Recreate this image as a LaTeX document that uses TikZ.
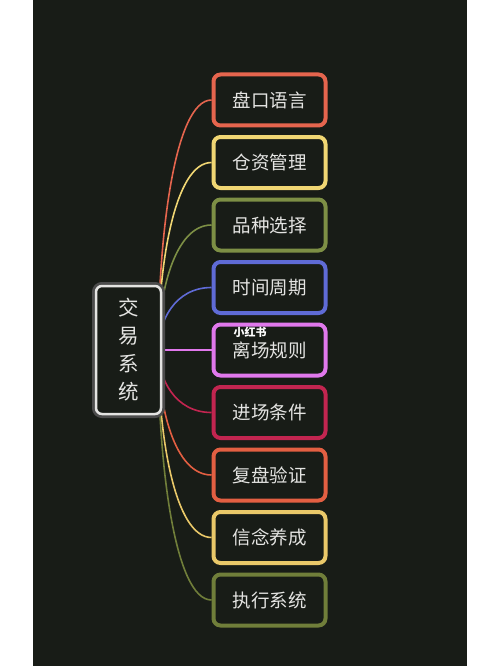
\documentclass[tikz,border=0pt]{standalone}
\usepackage{fontspec}
\setmainfont{Noto Sans CJK SC}
\usepackage{tikz}
\usetikzlibrary{positioning, backgrounds, calc}
\definecolor{bg}{HTML}{181C17}
\definecolor{txt}{HTML}{E4E4E2}
\definecolor{cPan}{HTML}{E5654E}
\definecolor{cCang}{HTML}{F0D673}
\definecolor{cPin}{HTML}{7D8F45}
\definecolor{cShi}{HTML}{5F6BD6}
\definecolor{cLi}{HTML}{E078EC}
\definecolor{cJin}{HTML}{C22550}
\definecolor{cFu}{HTML}{E35F42}
\definecolor{cXin}{HTML}{E9C869}
\definecolor{cZhi}{HTML}{707E3A}
\tikzstyle{leaf} = [rectangle, rounded corners=7pt, line width=4pt, fill=bg, text=txt, minimum width=112pt, minimum height=51pt, font=\fontsize{18.5}{22}\selectfont]
\tikzstyle{branch} = [line width=1.6pt, to path={.. controls ($(\tikztostart)!0.45!(\tikztostart |- \tikztotarget)$) and ([xshift=-37pt]\tikztotarget) .. (\tikztotarget)}]

\begin{document}
\begin{tikzpicture}[x=1pt, y=-1pt, node distance=7.5pt]
    \useasboundingbox (0,0) rectangle (500,666);
    \begin{scope}[on background layer]
        \fill[white] (0,0) rectangle (500,666);
        \fill[bg] (33,0) rectangle (467,666);
    \end{scope}

    % Root
    \node (sys) at (128.5,350) [rectangle, rounded corners=6pt, draw=txt, line width=2.5pt, fill=bg, text=txt, minimum width=65pt, minimum height=128pt, align=center, preaction={draw=gray!60!black, line width=8pt}, font=\fontsize{20.5}{28}\selectfont] {交\\易\\系\\统};
    \coordinate (hub) at ([xshift=-4pt]sys.east);

    % Branches
    \node (pankou) at (269.5,100) [leaf, draw=cPan] {盘口语言};
    \node (cangzi) [leaf, draw=cCang, below=of pankou] {仓资管理};
    \node (pinzhong) [leaf, draw=cPin, below=of cangzi] {品种选择};
    \node (shijian) [leaf, draw=cShi, below=of pinzhong] {时间周期};
    \node (lichang) [leaf, draw=cLi, below=of shijian] {离场规则};
    \node (jinchang) [leaf, draw=cJin, below=of lichang] {进场条件};
    \node (fupan) [leaf, draw=cFu, below=of jinchang] {复盘验证};
    \node (xinnian) [leaf, draw=cXin, below=of fupan] {信念养成};
    \node (zhixing) [leaf, draw=cZhi, below=of xinnian] {执行系统};

    % Watermark
    \node (mark) at (250,332) [text=white, font=\bfseries\fontsize{11}{11}\selectfont] {小红书};

    % Links
    \begin{scope}[on background layer]
        \draw [branch, draw=cPan] (hub) to (pankou.west);
        \draw [branch, draw=cCang] (hub) to (cangzi.west);
        \draw [branch, draw=cPin] (hub) to (pinzhong.west);
        \draw [branch, draw=cShi] (hub) to (shijian.west);
        \draw [branch, draw=cLi] (hub) to (lichang.west);
        \draw [branch, draw=cJin] (hub) to (jinchang.west);
        \draw [branch, draw=cFu] (hub) to (fupan.west);
        \draw [branch, draw=cXin] (hub) to (xinnian.west);
        \draw [branch, draw=cZhi] (hub) to (zhixing.west);
    \end{scope}
\end{tikzpicture}
\end{document}
